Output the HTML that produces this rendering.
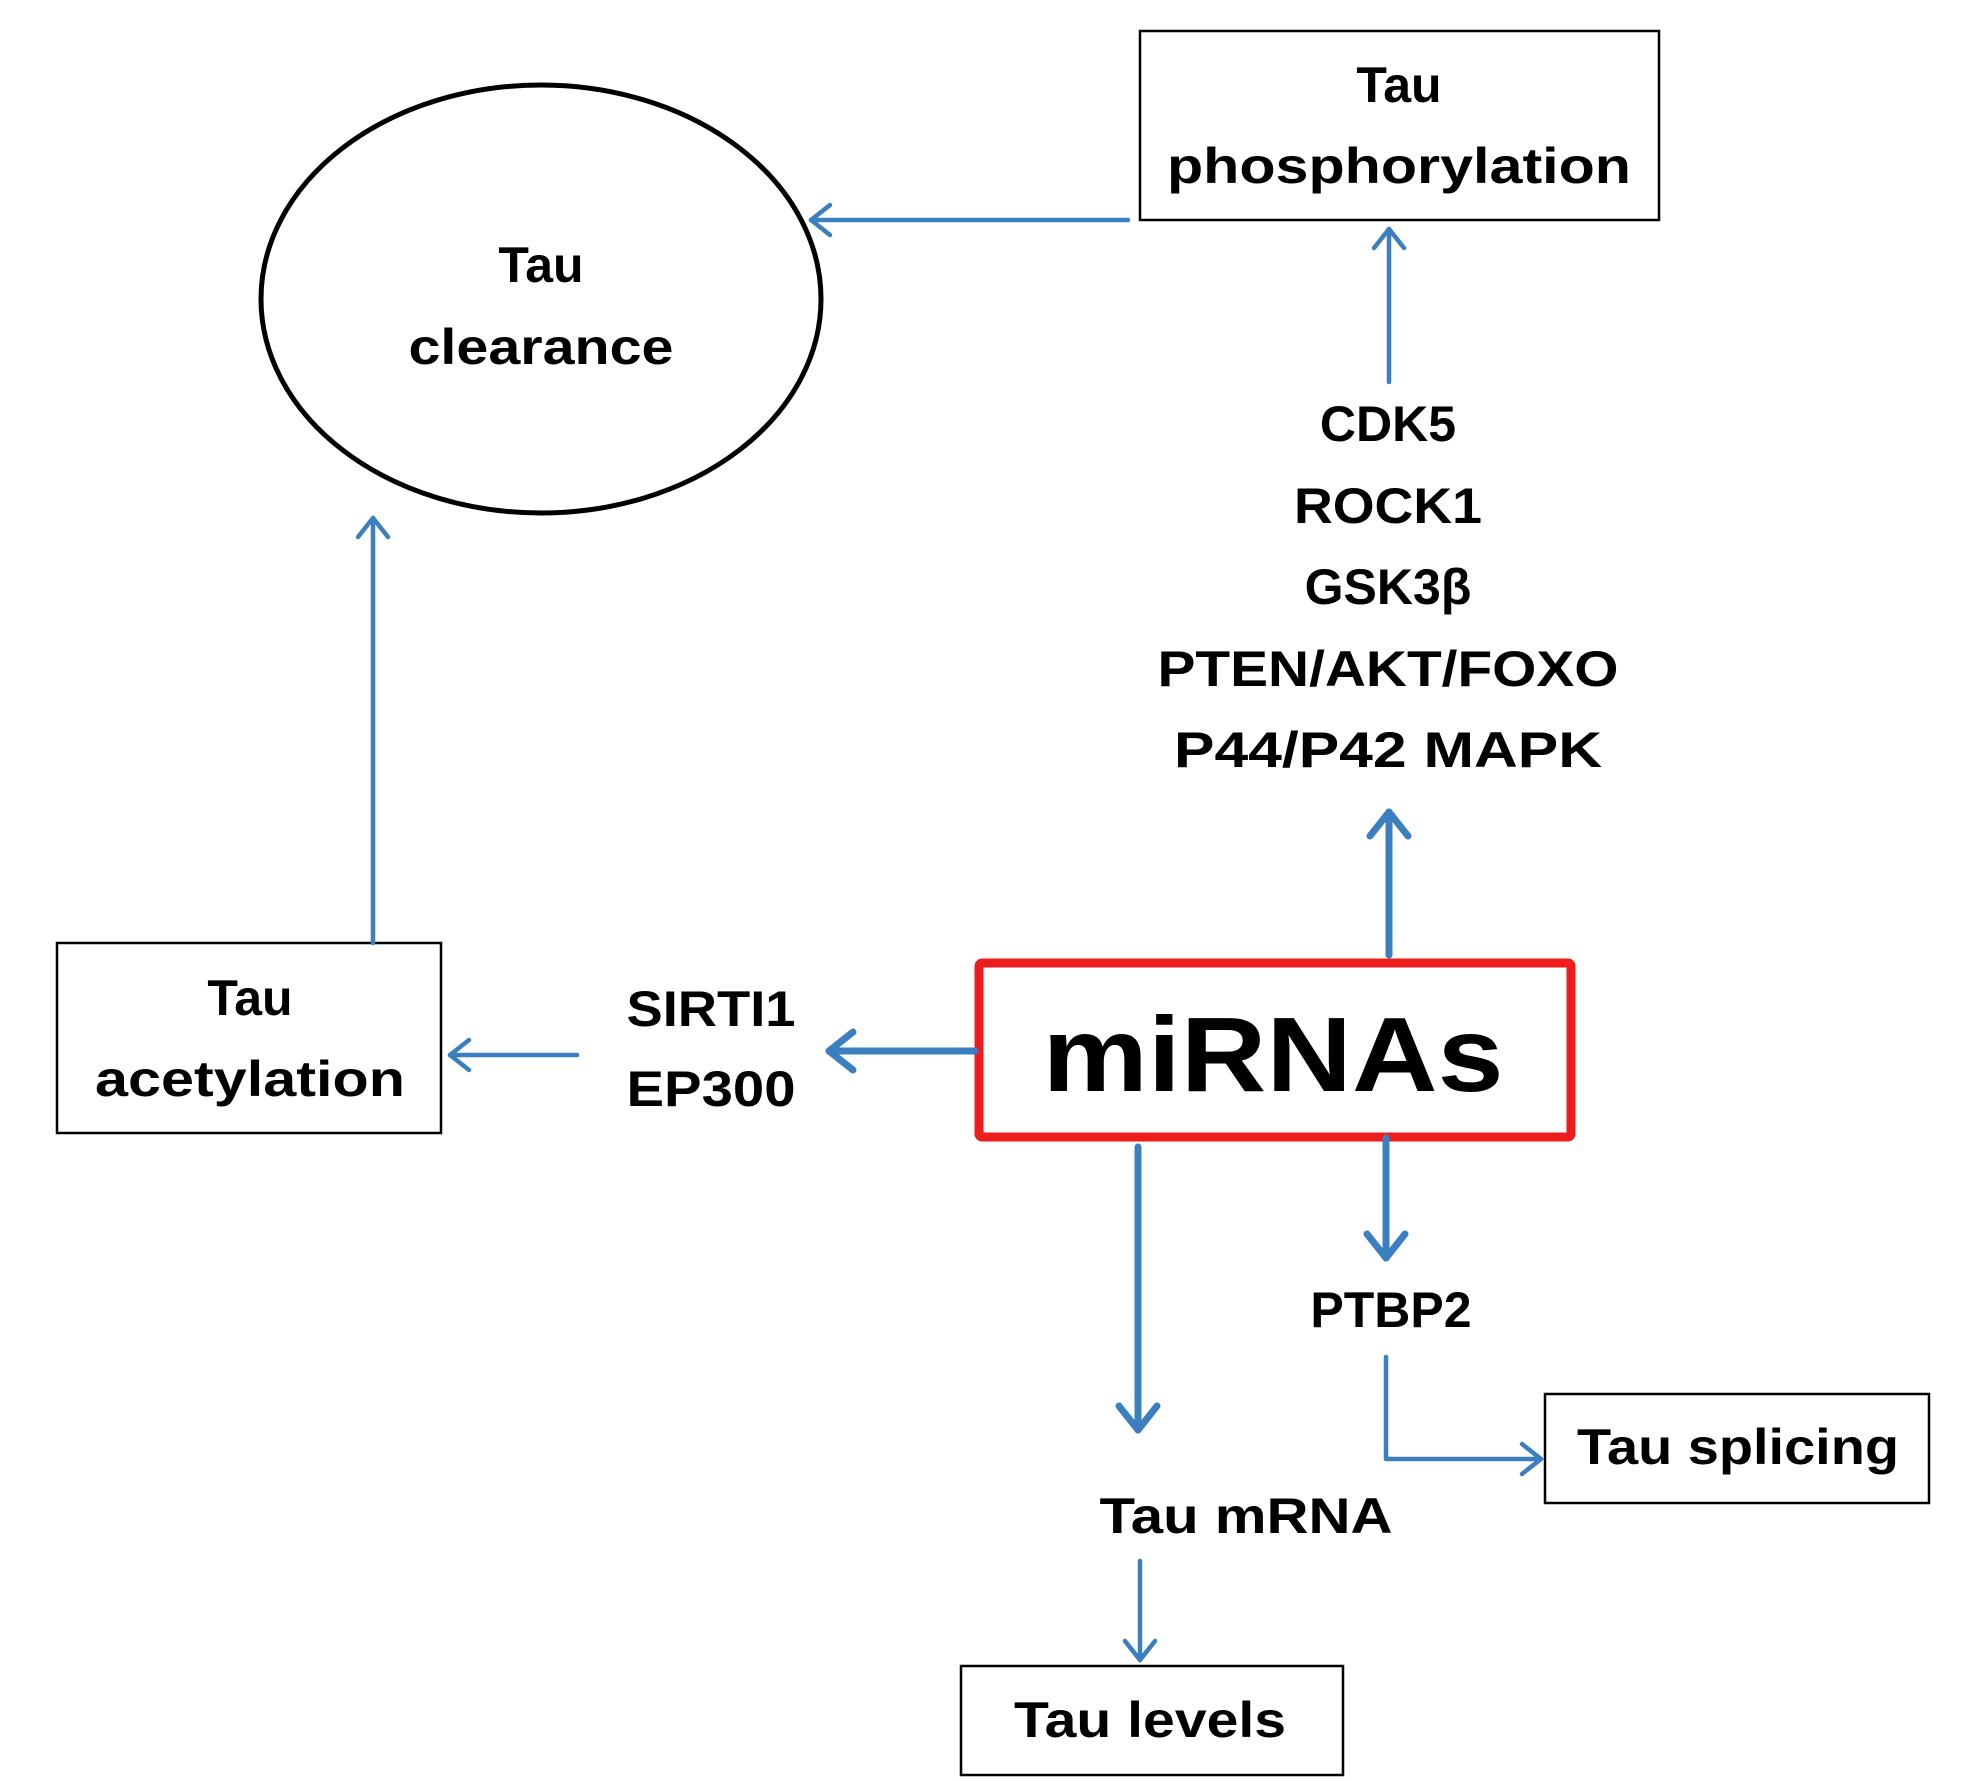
<!DOCTYPE html>
<html><head><style>html,body{margin:0;padding:0;background:#fff}svg{display:block}</style></head>
<body>
<svg width="1979" height="1781" viewBox="0 0 1979 1781" xmlns="http://www.w3.org/2000/svg" font-family="'Liberation Sans', sans-serif" font-weight="bold">
<rect width="1979" height="1781" fill="#fff"/>
<g fill="none" stroke="#000" stroke-width="2.5">
<rect x="1140" y="31" width="519" height="189"/>
<rect x="57" y="943" width="384" height="190"/>
<rect x="1545" y="1394" width="384" height="109"/>
<rect x="961" y="1666" width="382" height="109"/>
</g>
<ellipse cx="541" cy="299" rx="280" ry="214" fill="none" stroke="#000" stroke-width="5"/>
<rect x="979" y="963" width="592" height="174" fill="none" stroke="#ee1c1c" stroke-width="9" rx="3"/>
<g fill="none" stroke="#3b7fc0" stroke-width="4.5" stroke-linecap="round" stroke-linejoin="round">
<line x1="1128" y1="220" x2="811" y2="220"/><polyline points="830,205 811,220 830,235"/>
<line x1="1389" y1="382" x2="1389" y2="229"/><polyline points="1374,248 1389,229 1404,248"/>
<line x1="577" y1="1055" x2="450" y2="1055"/><polyline points="469,1040 450,1055 469,1070"/>
<line x1="373" y1="943" x2="373" y2="518"/><polyline points="358,537 373,518 388,537"/>
<polyline points="1386,1357 1386,1459 1541,1459"/><polyline points="1522,1444 1541,1459 1522,1474"/>
<line x1="1140" y1="1561" x2="1140" y2="1660"/><polyline points="1125,1641 1140,1660 1155,1641"/>
</g>
<g fill="none" stroke="#3b7fc0" stroke-width="7" stroke-linecap="round" stroke-linejoin="round">
<line x1="1389" y1="955" x2="1389" y2="812"/><polyline points="1370,836 1389,812 1408,836"/>
<line x1="975" y1="1051" x2="829" y2="1051"/><polyline points="853,1032 829,1051 853,1070"/>
<line x1="1138" y1="1147" x2="1138" y2="1430"/><polyline points="1119,1406 1138,1430 1157,1406"/>
<line x1="1386" y1="1138" x2="1386" y2="1258"/><polyline points="1367,1234 1386,1258 1405,1234"/>
</g>
<g fill="#000" font-size="50" text-anchor="middle" dominant-baseline="central">
<text x="1399" y="85">Tau</text>
<text x="1399" y="166" textLength="464" lengthAdjust="spacingAndGlyphs">phosphorylation</text>
<text x="541" y="265">Tau</text>
<text x="541" y="347" textLength="265" lengthAdjust="spacingAndGlyphs">clearance</text>
<text x="1388" y="424">CDK5</text>
<text x="1388" y="506" textLength="188" lengthAdjust="spacingAndGlyphs">ROCK1</text>
<text x="1388" y="587">GSK3β</text>
<text x="1388" y="669" textLength="461" lengthAdjust="spacingAndGlyphs">PTEN/AKT/FOXO</text>
<text x="1388" y="750" textLength="428" lengthAdjust="spacingAndGlyphs">P44/P42 MAPK</text>
<text x="711" y="1009" textLength="169" lengthAdjust="spacingAndGlyphs">SIRTI1</text>
<text x="711" y="1089" textLength="169" lengthAdjust="spacingAndGlyphs">EP300</text>
<text x="250" y="998">Tau</text>
<text x="250" y="1079" textLength="310" lengthAdjust="spacingAndGlyphs">acetylation</text>
<text x="1391" y="1310">PTBP2</text>
<text x="1738" y="1447" textLength="322" lengthAdjust="spacingAndGlyphs">Tau splicing</text>
<text x="1246" y="1516" textLength="293" lengthAdjust="spacingAndGlyphs">Tau mRNA</text>
<text x="1150" y="1720" textLength="272" lengthAdjust="spacingAndGlyphs">Tau levels</text>
<text x="1273" y="1055" font-size="106" textLength="461" lengthAdjust="spacingAndGlyphs">miRNAs</text>
</g>
</svg>
</body></html>
